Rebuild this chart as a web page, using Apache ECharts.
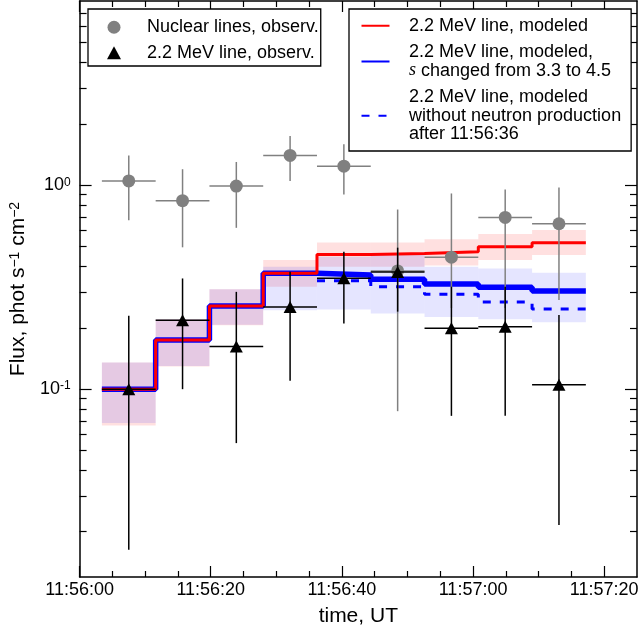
<!DOCTYPE html>
<html>
<head>
<meta charset="utf-8">
<script src="https://cdn.jsdelivr.net/npm/echarts@6/dist/echarts.min.js"></script>
<style>
  html, body { margin: 0; padding: 0; background: #fff; }
  #chart { width: 642px; height: 632px; }
</style>
</head>
<body>
<div id="chart"></div>
<script>
// ---------- data (time in seconds after 11:56:00 UT) ----------
const binEdges   = [3.4, 11.6, 19.8, 28.0, 36.2, 44.4, 52.6, 60.8, 69.0, 77.2];
const binCenters = [7.5, 15.7, 23.9, 32.1, 40.3, 48.5, 56.7, 64.9, 73.1];

// Nuclear lines, observed
const nuclearFlux = [1.05, 0.84, 0.99, 1.40, 1.24, 0.38, 0.444, 0.695, 0.647];
const nuclearLo   = [0.674, 0.496, 0.618, 1.05, 0.90, 0.078, 0.25, 0.25, 0.274];
const nuclearHi   = [1.40, 1.198, 1.30, 1.742, 1.588, 0.76, 0.911, 0.952, 0.974];

// 2.2 MeV line, observed
const lineFlux = [0.100, 0.218, 0.162, 0.253, 0.350, 0.375, 0.199, 0.2025, 0.105];
const lineLo   = [0.0163, 0.100, 0.0544, 0.110, 0.210, 0.240, 0.074, 0.074, 0.0216];
const lineHi   = [0.229, 0.349, 0.300, 0.376, 0.472, 0.494, 0.318, 0.318, 0.231];

// 2.2 MeV line, modeled (red) and its uncertainty band
const modelRed   = [0.100, 0.174, 0.256, 0.370, 0.458, 0.462, 0.472, 0.499, 0.522];
const redBandLo  = [0.0664, 0.129, 0.206, 0.318, 0.398, 0.398, 0.404, 0.430, 0.455];
const redBandHi  = [0.135, 0.220, 0.309, 0.430, 0.524, 0.524, 0.543, 0.576, 0.603];

// 2.2 MeV line, modeled, s changed (blue) and its band
const modelBlue  = [0.100, 0.174, 0.256, 0.370, 0.3625, 0.3455, 0.3276, 0.3157, 0.303];
const blueBandLo = [0.0682, 0.130, 0.207, 0.244, 0.246, 0.235, 0.226, 0.220, 0.213];
const blueBandHi = [0.135, 0.220, 0.309, 0.398, 0.446, 0.463, 0.398, 0.390, 0.372];

// without neutron production after 11:56:36 (bins 5..9)
const noNeutronEdges = [36.2, 44.4, 52.6, 60.8, 69.0, 77.2];
const modelNoNeutron = [0.340, 0.318, 0.2917, 0.2676, 0.247];

// axis ticks / labels
const xMajorTicks  = [0, 20, 40, 60, 80];
const xTickLabels  = ['11:56:00', '11:56:20', '11:56:40', '11:57:00', '11:57:20'];
const xMinorTicks  = [5, 10, 15, 25, 30, 35, 45, 50, 55, 65, 70, 75];
const yMajorTicks  = [0.1, 1];
const yTickLabels  = ['10{sup|-1}', '10{sup|0}'];
const yMinorTicks  = [0.02, 0.03, 0.04, 0.05, 0.06, 0.07, 0.08, 0.09,
                      0.2, 0.3, 0.4, 0.5, 0.6, 0.7, 0.8, 0.9,
                      2, 3, 4, 5, 6, 7];

// ---------- helpers building library inputs ----------
const FONT = '"Liberation Sans", Arial, sans-serif';

function stepData(edges, vals) {
  const d = vals.map((v, i) => [edges[i], v]);
  d.push([edges[vals.length], vals[vals.length - 1]]);
  return d;
}
function bandData(lo, hi) {
  return lo.map((l, i) => [binEdges[i], binEdges[i + 1], l, hi[i]]);
}
function errData(y, lo, hi) {
  return y.map((v, i) => [binCenters[i], v, lo[i], hi[i], binEdges[i], binEdges[i + 1]]);
}
function bandRender(fill) {
  return function (params, api) {
    const p0 = api.coord([api.value(0), api.value(3)]);
    const p1 = api.coord([api.value(1), api.value(2)]);
    return { type: 'rect',
      shape: { x: p0[0], y: p0[1], width: p1[0] - p0[0], height: p1[1] - p0[1] },
      style: { fill: fill } };
  };
}
function errRender(color) {
  return function (params, api) {
    const lo = api.coord([api.value(0), api.value(2)]);
    const hi = api.coord([api.value(0), api.value(3)]);
    const l = api.coord([api.value(4), api.value(1)]);
    const r = api.coord([api.value(5), api.value(1)]);
    return { type: 'group', children: [
      { type: 'line', shape: { x1: lo[0], y1: lo[1], x2: hi[0], y2: hi[1] }, style: { stroke: color, lineWidth: 1.5 } },
      { type: 'line', shape: { x1: l[0], y1: l[1], x2: r[0], y2: r[1] }, style: { stroke: color, lineWidth: 1.5 } }
    ] };
  };
}

const X_MIN = 0, X_MAX = 85, Y_MIN = 0.012, Y_MAX = 8;

function xAxisDef(position, ticks, len, showLine, showLabel) {
  return {
    type: 'value', position: position, min: X_MIN, max: X_MAX, gridIndex: 0,
    axisLine: { show: showLine, onZero: false, lineStyle: { color: '#000', width: 1.5 } },
    axisTick: { show: true, inside: true, length: len, customValues: ticks, lineStyle: { color: '#000', width: 1.2 } },
    axisLabel: showLabel ? {
      show: true, customValues: xMajorTicks, margin: 4, color: '#000', fontSize: 18, fontFamily: FONT,
      formatter: v => { const i = xMajorTicks.indexOf(Math.round(v)); return i >= 0 ? xTickLabels[i] : ''; }
    } : { show: false },
    splitLine: { show: false }
  };
}
function yAxisDef(position, ticks, len, showLine, showLabel) {
  return {
    type: 'log', logBase: 10, position: position, min: Y_MIN, max: Y_MAX, gridIndex: 0,
    axisLine: { show: showLine, onZero: false, lineStyle: { color: '#000', width: 1.5 } },
    axisTick: { show: true, inside: true, length: len, customValues: ticks, lineStyle: { color: '#000', width: 1.2 } },
    axisLabel: showLabel ? {
      show: true, customValues: yMajorTicks, margin: 9, color: '#000', fontSize: 18, fontFamily: FONT,
      formatter: v => { const k = Math.round(Math.log10(v)); const i = yMajorTicks.findIndex(t => Math.round(Math.log10(t)) === k); return i >= 0 ? yTickLabels[i] : ''; },
      rich: { sup: { fontSize: 12, fontFamily: FONT, color: '#000', verticalAlign: 'top', lineHeight: 14 } }
    } : { show: false },
    splitLine: { show: false }
  };
}

const xAxes = [
  xAxisDef('bottom', xMajorTicks, 11, true, true),
  xAxisDef('bottom', xMinorTicks, 6, false, false),
  xAxisDef('top', xMajorTicks, 11, true, false),
  xAxisDef('top', xMinorTicks, 6, false, false)
];
xAxes[0].name = 'time, UT';
xAxes[0].nameLocation = 'middle';
xAxes[0].nameGap = 29;
xAxes[0].nameTextStyle = { fontSize: 21, fontFamily: FONT, color: '#000' };

const yAxes = [
  yAxisDef('left', yMajorTicks, 12, true, true),
  yAxisDef('left', yMinorTicks, 7, false, false),
  yAxisDef('right', yMajorTicks, 12, true, false),
  yAxisDef('right', yMinorTicks, 7, false, false)
];
yAxes[0].name = 'Flux, phot s{sup|\u22121} cm{sup|\u22122}';
yAxes[0].nameLocation = 'middle';
yAxes[0].nameRotate = 90;
yAxes[0].nameGap = 50;
yAxes[0].nameTextStyle = { fontSize: 21, fontFamily: FONT, color: '#000',
  rich: { sup: { fontSize: 14, fontFamily: FONT, color: '#000', verticalAlign: 'top', lineHeight: 16 } } };

const NAME_NUC = 'Nuclear lines, observ.';
const NAME_OBS = '2.2 MeV line, observ.';
const NAME_RED = 'modeled';
const NAME_BLUE = 'modeledS';
const NAME_DASH = 'noNeutron';
const legendText = {};
legendText[NAME_RED] = '2.2 MeV line, modeled';
legendText[NAME_BLUE] = '2.2 MeV line, modeled,\n{it|s} changed from 3.3 to 4.5';
legendText[NAME_DASH] = '2.2 MeV line, modeled\nwithout neutron production\nafter 11:56:36';
const hiddenSymbol = { color: 'rgba(0,0,0,0)', opacity: 0, borderWidth: 0 };

const option = {
  animation: false,
  backgroundColor: '#fff',
  grid: { left: 79, right: 5, top: 1, bottom: 55, containLabel: false },
  xAxis: xAxes,
  yAxis: yAxes,
  legend: [
    {
      orient: 'vertical', left: 88, top: 9,
      data: [NAME_NUC, NAME_OBS],
      itemWidth: 14, itemHeight: 13, itemGap: 7,
      padding: [9, 2, 4, 19],
      borderColor: '#000', borderWidth: 1.3, backgroundColor: '#fff', borderRadius: 0,
      selectedMode: false,
      textStyle: { fontSize: 18, fontFamily: FONT, color: '#000', lineHeight: 18.5, padding: [0, 0, 0, 21] }
    },
    {
      orient: 'vertical', left: 349, top: 9,
      data: [
        { name: NAME_RED, itemStyle: hiddenSymbol },
        { name: NAME_BLUE, itemStyle: hiddenSymbol },
        { name: NAME_DASH, itemStyle: hiddenSymbol }
      ],
      itemWidth: 28, itemHeight: 14, itemGap: 8,
      padding: [7.5, 10, 7.5, 11.5],
      borderColor: '#000', borderWidth: 1.3, backgroundColor: '#fff', borderRadius: 0,
      selectedMode: false,
      formatter: n => legendText[n],
      textStyle: { fontSize: 18, fontFamily: FONT, color: '#000', lineHeight: 18.5, padding: [0, 0, 0, 14.5],
        rich: { it: { fontSize: 18, fontStyle: 'italic', fontFamily: '"Liberation Serif", "DejaVu Serif", serif', color: '#000', lineHeight: 18.5 } } }
    }
  ],
  series: [
    { type: 'custom', name: 'redBand', z: 1, renderItem: bandRender('rgba(255,0,0,0.12)'),
      data: bandData(redBandLo, redBandHi), encode: { x: [0, 1], y: [2, 3] }, silent: true },
    { type: 'custom', name: 'blueBand', z: 1, renderItem: bandRender('rgba(0,0,255,0.10)'),
      data: bandData(blueBandLo, blueBandHi), encode: { x: [0, 1], y: [2, 3] }, silent: true },
    { type: 'line', name: NAME_BLUE, z: 2, step: 'end', symbol: 'none', showSymbol: false,
      lineStyle: { color: '#0000ff', width: 5.5 }, itemStyle: { color: '#0000ff' },
      data: stepData(binEdges, modelBlue) },
    { type: 'line', name: NAME_RED, z: 3, step: 'end', symbol: 'none', showSymbol: false,
      lineStyle: { color: '#ff0000', width: 3 }, itemStyle: { color: '#ff0000' },
      data: stepData(binEdges, modelRed) },
    { type: 'line', name: NAME_DASH, z: 3, step: 'end', symbol: 'none', showSymbol: false,
      lineStyle: { color: '#0000ff', width: 3, type: [8, 9] }, itemStyle: { color: '#0000ff' },
      data: stepData(noNeutronEdges, modelNoNeutron) },
    { type: 'custom', name: 'nucErr', z: 5, renderItem: errRender('#808080'),
      data: errData(nuclearFlux, nuclearLo, nuclearHi), silent: true },
    { type: 'scatter', name: NAME_NUC, z: 6, symbol: 'circle', symbolSize: 13,
      itemStyle: { color: '#808080', opacity: 1 },
      data: nuclearFlux.map((v, i) => [binCenters[i], v]) },
    { type: 'custom', name: 'obsErr', z: 7, renderItem: errRender('#000000'),
      data: errData(lineFlux, lineLo, lineHi), silent: true },
    { type: 'scatter', name: NAME_OBS, z: 8, symbol: 'triangle', symbolSize: [13, 12],
      itemStyle: { color: '#000000', opacity: 1 },
      data: lineFlux.map((v, i) => [binCenters[i], v]) }
  ]
};

const chart = echarts.init(document.getElementById('chart'), null, { renderer: 'canvas' });
chart.setOption(option);
</script>
</body>
</html>
